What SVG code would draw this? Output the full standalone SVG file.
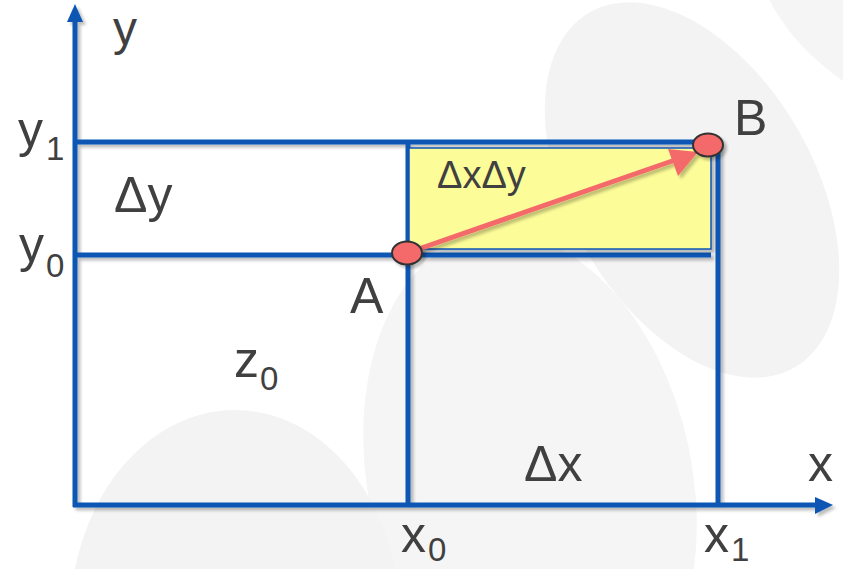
<svg xmlns="http://www.w3.org/2000/svg" width="843" height="569" viewBox="0 0 843 569">
<defs>
<filter id="sh" x="-20%" y="-20%" width="140%" height="140%">
<feDropShadow dx="3" dy="3" stdDeviation="1.5" flood-color="#000" flood-opacity="0.25"/>
</filter>
<style>
.ln{stroke:#0a56b4;stroke-width:5;fill:none}
.ah{fill:#0a56b4}
.t{font-family:"Liberation Sans",Arial,sans-serif;fill:#404040}
.big{font-size:50px}
.sub{font-size:33px}
.pt{fill:#f46b6b;stroke:#333;stroke-width:2}
.wm{fill:#f3f3f3}
</style>
</defs>
<rect width="843" height="569" fill="#fff"/>
<g id="watermark">
<ellipse class="wm" cx="530" cy="480" rx="162" ry="250" transform="rotate(-12 530 480)" style="fill:#f5f5f5"/>
<ellipse class="wm" cx="692" cy="190" rx="122" ry="205" transform="rotate(-30 692 190)"/>
<ellipse class="wm" cx="890" cy="10" rx="150" ry="85" transform="rotate(35 890 10)" style="fill:#f5f5f5"/>
<ellipse class="wm" cx="235" cy="620" rx="165" ry="210"/>
</g>
<g id="connectors" filter="url(#sh)">
<line class="ln" x1="75" y1="507" x2="75" y2="20"/>
<polygon class="ah" points="75,4 67,22 83,22"/>
<line class="ln" x1="73" y1="505" x2="817" y2="505"/>
<polygon class="ah" points="833,505 815,497 815,514"/>
<line class="ln" x1="75" y1="142" x2="720" y2="142"/>
<line class="ln" x1="75" y1="255" x2="711" y2="255"/>
<line class="ln" x1="408" y1="142" x2="408" y2="507"/>
<line class="ln" x1="718" y1="142" x2="718" y2="507"/>
</g>
<g id="region" filter="url(#sh)">
<rect x="409" y="148" width="302" height="101" fill="#fcfc98" stroke="#0a56b4" stroke-width="1.5"/>
</g>
<g id="arrow-AB" filter="url(#sh)">
<line x1="410" y1="252" x2="675" y2="160" stroke="#f46b6b" stroke-width="5"/>
<polygon points="698,152 668,149 678,176" fill="#f46b6b"/>
</g>
<g id="point-A" filter="url(#sh)">
<ellipse class="pt" cx="407" cy="253" rx="15" ry="11.5"/>
</g>
<g id="point-B" filter="url(#sh)">
<ellipse class="pt" cx="708" cy="145" rx="15" ry="11.5"/>
</g>
<g id="labels">
<text class="t" style="font-size:48px" x="113" y="45">y</text>
<text class="t big" x="18" y="147">y</text><text class="t sub" x="46" y="160">1</text>
<text class="t big" x="19" y="262">y</text><text class="t sub" x="46" y="277">0</text>
<text class="t big" x="114" y="212">Δy</text>
<text class="t" style="font-size:38px" x="437" y="188">ΔxΔy</text>
<text class="t big" x="350" y="313">A</text>
<text class="t big" x="734" y="135">B</text>
<text class="t big" x="234" y="377">z</text><text class="t sub" x="260" y="390">0</text>
<text class="t big" x="524" y="481">Δx</text>
<text class="t big" x="808" y="481">x</text>
<text class="t big" x="401" y="552">x</text><text class="t sub" x="428" y="561">0</text>
<text class="t big" x="704" y="552">x</text><text class="t sub" x="731" y="561">1</text>
</g>
</svg>
